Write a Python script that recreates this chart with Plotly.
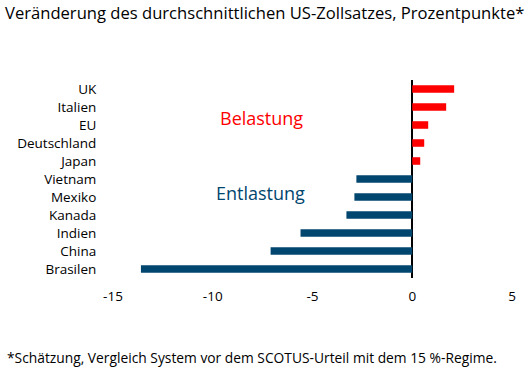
import plotly.graph_objects as go

countries = ["UK", "Italien", "EU", "Deutschland", "Japan", "Vietnam", "Mexiko",
             "Kanada", "Indien", "China", "Brasilen"]
values = [2.1, 1.7, 0.8, 0.6, 0.4, -2.8, -2.9, -3.3, -5.6, -7.1, -13.6]
x_ticks = [-15, -10, -5, 0, 5]
x_tick_labels = ["-15", "-10", "-5", "0", "5"]

RED = "#FF0000"
NAVY = "#00466E"
colors = [RED if v > 0 else NAVY for v in values]
FONT = "Open Sans"

W, H = 527, 368
L, R, T, B = 113, 15, 80, 90
PW, PH = W - L - R, H - T - B

fig = go.Figure(go.Bar(
    x=values, y=countries, orientation="h",
    marker=dict(color=colors, line=dict(width=0)),
    width=0.42,
))

fig.update_layout(
    width=W, height=H,
    margin=dict(l=L, r=R, t=T, b=B),
    paper_bgcolor="white", plot_bgcolor="white",
    showlegend=False,
    font=dict(family=FONT, color="black"),
    title=dict(text="Veränderung des durchschnittlichen US-Zollsatzes, Prozentpunkte*",
               x=5 / W, xanchor="left", y=1 - 13 / H, yanchor="middle",
               font=dict(size=16.6, family=FONT, color="black")),
    xaxis=dict(range=[-15, 5], tickvals=x_ticks, ticktext=x_tick_labels, showgrid=False,
               zeroline=True, zerolinecolor="black", zerolinewidth=2,
               ticks="outside", ticklen=6, tickcolor="rgba(0,0,0,0)",
               tickfont=dict(size=13.5, family=FONT), showline=False, fixedrange=True),
    yaxis=dict(categoryorder="array", categoryarray=countries, autorange="reversed",
               showgrid=False, ticks="outside", ticklen=13, tickcolor="rgba(0,0,0,0)",
               tickfont=dict(size=13.5, family=FONT), showline=False),
    annotations=[
        dict(text="Belastung", x=-7.55, y=1.6, xref="x", yref="y", showarrow=False,
             font=dict(size=18, color=RED, family=FONT)),
        dict(text="Entlastung", x=-7.6, y=5.8, xref="x", yref="y", showarrow=False,
             font=dict(size=18, color=NAVY, family=FONT)),
        dict(text="*Schätzung, Vergleich System vor dem SCOTUS-Urteil mit dem 15 %-Regime.",
             x=(5 - L) / PW, y=-(357 - (T + PH)) / PH, xref="paper", yref="paper",
             showarrow=False, xanchor="left", yanchor="middle",
             font=dict(size=13.8, color="black", family=FONT)),
    ],
)

fig.write_html("out.html", config={"displayModeBar": False},
               post_script="document.body.style.margin='0px';")
